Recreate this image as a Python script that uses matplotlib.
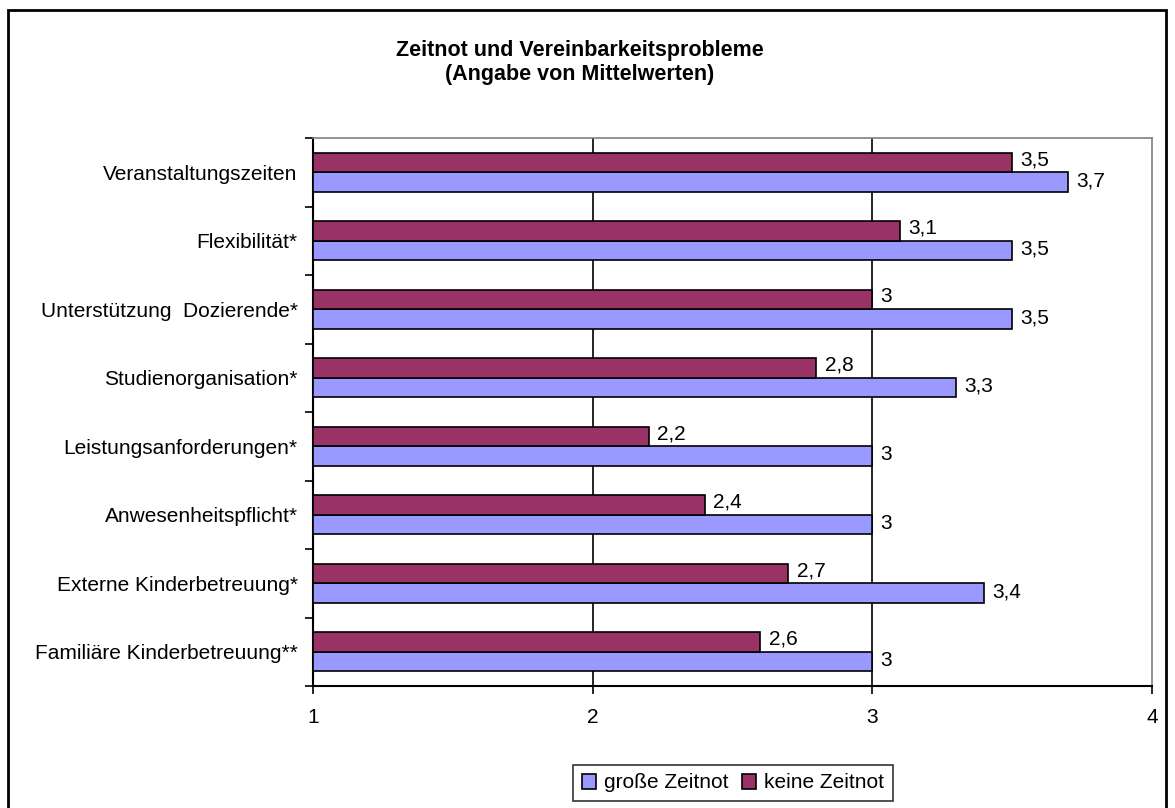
import matplotlib.pyplot as plt
import matplotlib.patches as mpatches
import numpy as np

plt.rcParams['font.family'] = ['Liberation Sans', 'DejaVu Sans']

categories = ['Veranstaltungszeiten', 'Flexibilität*', 'Unterstützung  Dozierende*',
              'Studienorganisation*', 'Leistungsanforderungen*', 'Anwesenheitspflicht*',
              'Externe Kinderbetreuung*', 'Familiäre Kinderbetreuung**']
grosse_zeitnot = [3.7, 3.5, 3.5, 3.3, 3.0, 3.0, 3.4, 3.0]
keine_zeitnot = [3.5, 3.1, 3.0, 2.8, 2.2, 2.4, 2.7, 2.6]
xticks = [1, 2, 3, 4]

blue = '#9999FF'
maroon = '#993366'
fs = 15

fig = plt.figure(figsize=(11.75, 8.08), dpi=100)
W, H = 1175, 808
ax = fig.add_axes([313 / W, 1 - 686 / H, (1152 - 313) / W, (686 - 138) / H])

n = len(categories)
y = np.arange(n)[::-1].astype(float)  # first category on top
h = 0.285

base = 1
ax.barh(y - h / 2, np.array(grosse_zeitnot) - base, left=base, height=h,
        color=blue, edgecolor='black', linewidth=1.2, label='große Zeitnot', zorder=3)
ax.barh(y + h / 2, np.array(keine_zeitnot) - base, left=base, height=h,
        color=maroon, edgecolor='black', linewidth=1.2, label='keine Zeitnot', zorder=3)

def fmt(v):
    s = ('%.1f' % v).replace('.', ',')
    return s[:-2] if s.endswith(',0') else s

for yy, v in zip(y, grosse_zeitnot):
    ax.text(v + 0.03, yy - h / 2 + 0.02, fmt(v), va='center', ha='left', fontsize=fs)
for yy, v in zip(y, keine_zeitnot):
    ax.text(v + 0.03, yy + h / 2 + 0.04, fmt(v), va='center', ha='left', fontsize=fs)

ax.set_xlim(1, 4)
ax.set_ylim(-0.5, n - 0.5)
ax.set_xticks(xticks)
ax.set_xticklabels([str(t) for t in xticks], fontsize=fs)
ax.set_yticks(y)
ax.set_yticklabels(categories, fontsize=fs)
ax.set_yticks(np.arange(n + 1) - 0.5, minor=True)
ax.tick_params(axis='y', which='major', length=0, pad=11)
ax.tick_params(axis='y', which='minor', length=6, width=1.2, direction='out')
ax.tick_params(axis='x', which='major', length=6, width=1.2, direction='out', pad=10)

for xv in [2, 3]:
    ax.axvline(xv, color='black', linewidth=1.2, zorder=1)

ax.spines['left'].set_linewidth(1.5)
ax.spines['bottom'].set_linewidth(1.5)
ax.spines['top'].set_color('#808080')
ax.spines['right'].set_color('#808080')
ax.spines['top'].set_linewidth(1.2)
ax.spines['right'].set_linewidth(1.2)

fig.text(580 / W, 1 - 56 / H, 'Zeitnot und Vereinbarkeitsprobleme', ha='center', va='baseline',
         fontsize=15.5, fontweight='bold')
fig.text(580 / W, 1 - 80 / H, '(Angabe von Mittelwerten)', ha='center', va='baseline',
         fontsize=15.5, fontweight='bold')

leg = fig.legend(loc='center', bbox_to_anchor=(733 / W, 1 - 783 / H), ncol=2, fontsize=fs,
                 frameon=True, fancybox=False, edgecolor='black', handlelength=0.7,
                 handleheight=0.7, handletextpad=0.4, columnspacing=0.6, borderpad=0.4)
leg.get_frame().set_linewidth(1.2)

frame = mpatches.Rectangle((8 / W, -0.05), (1166 - 8) / W, 1.05 - 10 / H,
                           transform=fig.transFigure, fill=False, edgecolor='black',
                           linewidth=2, clip_on=False)
fig.patches.append(frame)

fig.savefig('out.png', dpi=100)
